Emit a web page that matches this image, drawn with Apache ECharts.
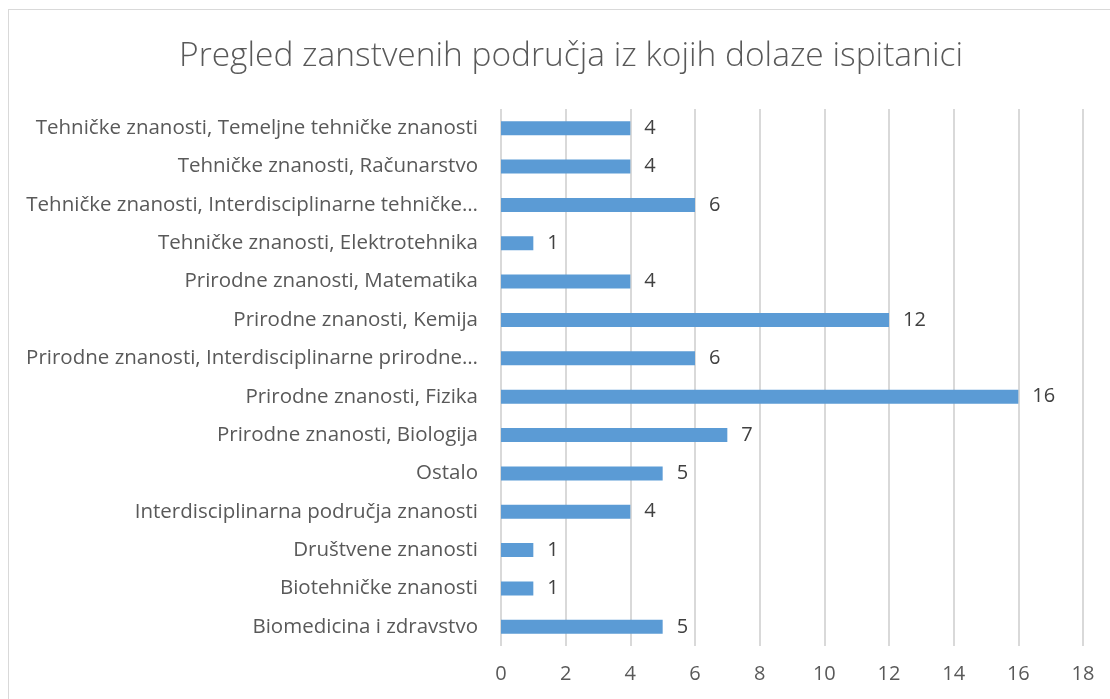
<!DOCTYPE html>
<html>
<head>
<meta charset="utf-8">
<script src="https://cdn.jsdelivr.net/npm/echarts@6/dist/echarts.min.js"></script>
<style>
  html, body { margin: 0; padding: 0; background: #fff; }
  #frame { position: absolute; left: 8px; top: 9px; width: 1110px; height: 700px; border: 1px solid #d9d9d9; }
  #main { position: absolute; left: 0; top: 0; width: 1110px; height: 699px; }
</style>
</head>
<body>
<div id="frame"></div>
<div id="main"></div>
<script>
// kategorije odozdo prema gore (kao na osi)
var categories = [
  'Biomedicina i zdravstvo',
  'Biotehničke znanosti',
  'Društvene znanosti',
  'Interdisciplinarna područja znanosti',
  'Ostalo',
  'Prirodne znanosti, Biologija',
  'Prirodne znanosti, Fizika',
  'Prirodne znanosti, Interdisciplinarne prirodne…',
  'Prirodne znanosti, Kemija',
  'Prirodne znanosti, Matematika',
  'Tehničke znanosti, Elektrotehnika',
  'Tehničke znanosti, Interdisciplinarne tehničke…',
  'Tehničke znanosti, Računarstvo',
  'Tehničke znanosti, Temeljne tehničke znanosti'
];
var counts = [5, 1, 1, 4, 5, 7, 16, 6, 12, 4, 1, 6, 4, 4];
var xTicks = [0, 2, 4, 6, 8, 10, 12, 14, 16, 18];

var font = 'Open Sans, Noto Sans, sans-serif';
var chart = echarts.init(document.getElementById('main'), null, { renderer: 'canvas' });

var option = {
  backgroundColor: 'transparent',
  animation: false,
  title: {
    text: 'Pregled zanstvenih područja iz kojih dolaze ispitanici',
    left: 566,
    textAlign: 'center',
    top: 34,
    textStyle: { fontFamily: font, fontWeight: 300, fontSize: 33.5, color: '#595959' }
  },
  grid: { left: 501, right: 27, top: 109, bottom: 53, containLabel: false },
  xAxis: {
    type: 'value',
    min: xTicks[0],
    max: xTicks[xTicks.length - 1],
    interval: 2,
    axisLine: { show: false },
    axisTick: { show: false },
    splitLine: { lineStyle: { color: '#d9d9d9', width: 2 } },
    axisLabel: { fontFamily: font, fontSize: 20, color: '#595959', margin: 18 }
  },
  yAxis: {
    type: 'category',
    data: categories,
    axisLine: { show: false },
    axisTick: { show: false },
    axisLabel: { fontFamily: font, fontSize: 20.5, color: '#595959', margin: 23 }
  },
  series: [{
    type: 'bar',
    data: counts,
    barWidth: 14,
    itemStyle: { color: '#5b9bd5' },
    label: {
      show: true,
      position: 'right',
      distance: 14,
      fontFamily: font,
      fontSize: 20,
      color: '#404040'
    }
  }]
};
chart.setOption(option);
</script>
</body>
</html>
